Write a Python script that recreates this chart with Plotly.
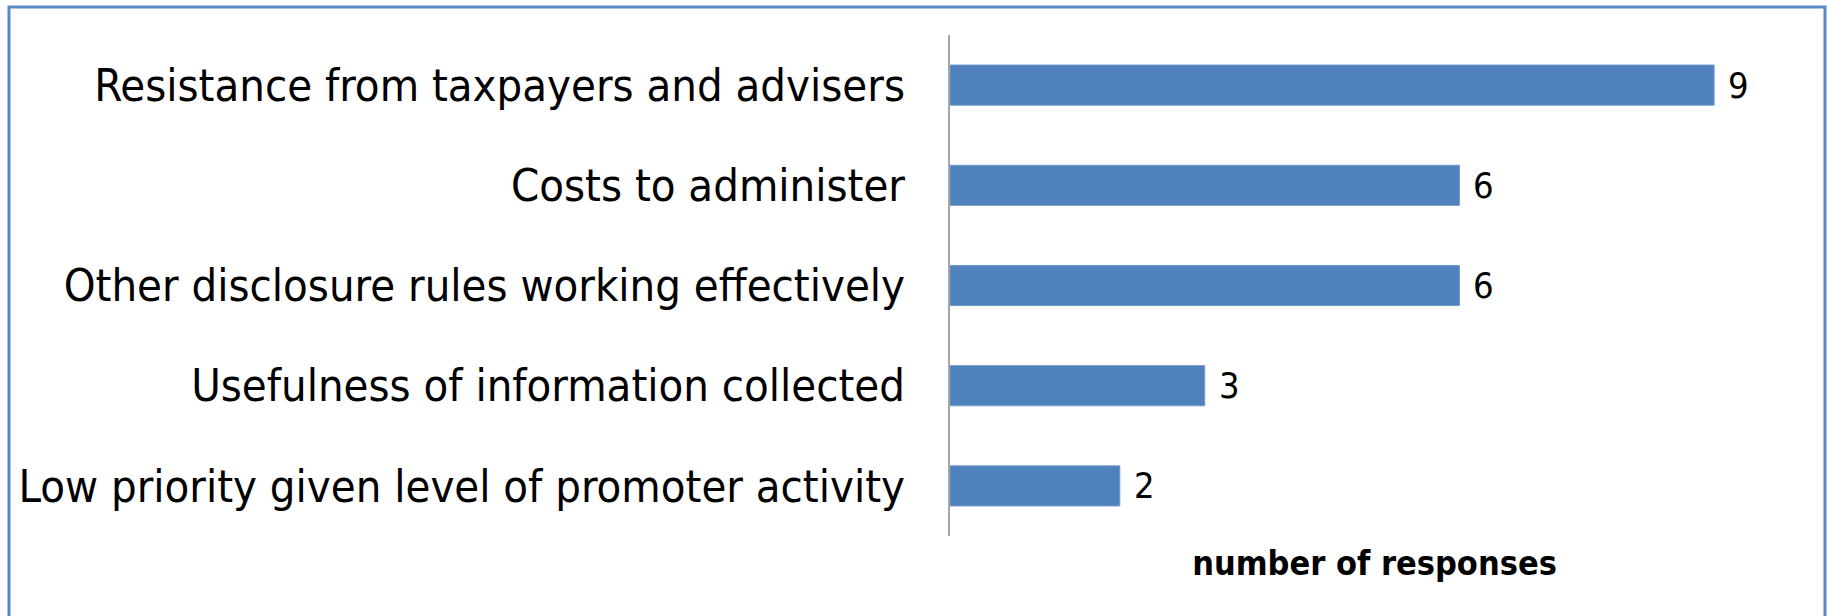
import plotly.graph_objects as go

categories = [
    "Resistance from taxpayers and advisers",
    "Costs to administer",
    "Other disclosure rules working effectively",
    "Usefulness of information collected",
    "Low priority given level of promoter activity",
]
values = [9, 6, 6, 3, 2]
axis_title = "number of responses"

W, H = 1827, 616
L, R, T, B = 950, 28, 35, 80
pw, ph = W - L - R, H - T - B

FONT = "Liberation Sans Narrow, DejaVu Sans Condensed, Open Sans, sans-serif"

fig = go.Figure()
fig.add_trace(go.Bar(
    y=categories, x=values, orientation="h",
    marker=dict(color="#4F81BD", line=dict(color="#6F97CC", width=1)),
    width=0.4, hoverinfo="skip",
))

for c, v in zip(categories, values):
    fig.add_annotation(x=v, y=c, text=str(v), showarrow=False,
                       xanchor="left", xshift=12,
                       font=dict(family=FONT, size=36, color="#000000"))

def px_to_paper_x(p):
    return (p - L) / pw

def px_to_paper_y(p):
    return (H - B - p) / ph

fig.add_shape(type="rect", xref="paper", yref="paper",
              x0=px_to_paper_x(9), x1=px_to_paper_x(1825),
              y0=px_to_paper_y(640), y1=px_to_paper_y(7),
              line=dict(color="#5B87C2", width=3), fillcolor="rgba(0,0,0,0)")

fig.update_layout(
    width=W, height=H,
    margin=dict(l=L, r=R, t=T, b=B),
    plot_bgcolor="white", paper_bgcolor="white",
    showlegend=False,
    bargap=0.6,
    xaxis=dict(range=[0, 10], showgrid=False, zeroline=False,
               showticklabels=False, ticks="", showline=False,
               title=dict(text="<b>" + axis_title + "</b>", standoff=15,
                          font=dict(family=FONT, size=34, color="#000000"))),
    yaxis=dict(autorange="reversed", showgrid=False, zeroline=False,
               showline=True, linecolor="#A6A6A6", linewidth=2,
               ticks="", ticklabelstandoff=34,
               tickfont=dict(family=FONT, size=45, color="#000000")),
)

fig.write_html("out.html")
